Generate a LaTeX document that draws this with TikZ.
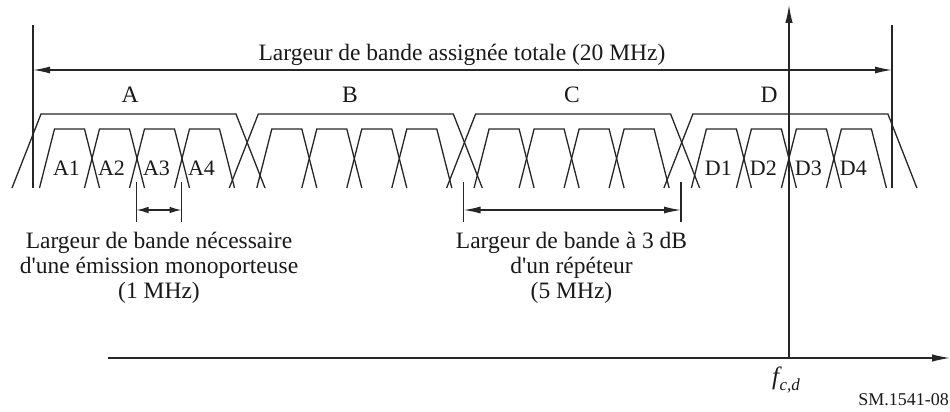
\documentclass[tikz,border=0pt]{standalone}
\usepackage{fontspec}
\setmainfont{Liberation Serif}
\usetikzlibrary{arrows.meta}
\begin{document}
\begin{tikzpicture}[x=1pt,y=-1pt,
  ln/.style={line width=1.3pt, draw=black!85},
  arr/.style={ln,{Latex[length=17pt,width=7pt]}-{Latex[length=17pt,width=7pt]}},
  sarr/.style={ln,{Latex[length=12pt,width=6.5pt]}-{Latex[length=12pt,width=6.5pt]}},
  oarr/.style={ln,-{Latex[length=18pt,width=7.5pt]}},
  lbl/.style={inner sep=0pt, font=\fontsize{23.5}{25}\selectfont, text=black!90},
  sub/.style={inner sep=0pt, font=\fontsize{22}{24}\selectfont, text=black!90, anchor=base}
]
\useasboundingbox (0,0) rectangle (950,412);

% transponders and carriers
\foreach \i in {0,1,2,3}{
  \pgfmathsetmacro\T{41+217.3*\i}
  \draw[ln] (\T-29,188) -- (\T,114) -- (\T+195,114) -- (\T+224,188);
  \foreach \k in {0,1,2,3}{
    \pgfmathsetmacro\c{\T+13.5+45*\k}
    \draw[ln] (\c-15,188) -- (\c,129) -- (\c+30,129) -- (\c+45,188);
  }
}

% carrier labels
\foreach \k in {1,2,3,4}{
  \node[sub] (A\k) at ({41+13.5+45*(\k-1)+12},175) {A\k};
  \node[sub] (D\k) at ({692.9+13.5+45*(\k-1)+12},175) {D\k};
}

% transponder labels
\node[lbl,anchor=base] (tA) at (130,102) {A};
\node[lbl,anchor=base] (tB) at (350,102) {B};
\node[lbl,anchor=base] (tC) at (572,102) {C};
\node[lbl,anchor=base] (tD) at (769,102) {D};

% total bandwidth
\coordinate (LT) at (33,25);  \coordinate (LB) at (33,188);
\coordinate (RT) at (892,25); \coordinate (RB) at (892,188);
\draw[ln] (LT) -- (LB);
\draw[ln] (RT) -- (RB);
\coordinate (AL) at (33,70); \coordinate (AR) at (892,70);
\draw[arr] (AL) -- (AR);
\node[lbl,anchor=base] (total) at (462,60) {Largeur de bande assignée totale (20 MHz)};

% axes
\coordinate (X0) at (108,358); \coordinate (X1) at (950,358);
\draw[oarr] (X0) -- (X1);
\coordinate (F0) at (789,358); \coordinate (F1) at (789,5);
\draw[oarr] (F0) -- (F1);
\node[inner sep=0pt, anchor=base west, text=black!90] (fcd) at (772,384)
  {\fontsize{25}{25}\selectfont\itshape f\kern0.5pt\raisebox{-6pt}{\fontsize{17}{17}\selectfont c,d}};

% 1 MHz
\coordinate (m1t) at (136.5,182); \coordinate (m1b) at (136.5,222);
\coordinate (m2t) at (181.5,182); \coordinate (m2b) at (181.5,222);
\draw[ln] (m1t) -- (m1b);
\draw[ln] (m2t) -- (m2b);
\coordinate (m1a) at (136.5,210); \coordinate (m2a) at (181.5,210);
\draw[sarr] (m1a) -- (m2a);
\node[lbl,align=center,anchor=north] (nec) at (159,231.5)
  {Largeur de bande nécessaire\\d\textquotesingle une émission monoporteuse\\(1 MHz)};

% 5 MHz
\coordinate (r1t) at (463.5,182); \coordinate (r1b) at (463.5,222);
\coordinate (r2t) at (681,182); \coordinate (r2b) at (681,222);
\draw[ln] (r1t) -- (r1b);
\draw[ln] (r2t) -- (r2b);
\coordinate (r1a) at (463.5,210); \coordinate (r2a) at (681,210);
\draw[arr] (r1a) -- (r2a);
\node[lbl,align=center,anchor=north] (rep) at (571.5,231.5)
  {Largeur de bande à 3 dB\\d\textquotesingle un répéteur\\(5 MHz)};

\node[inner sep=0pt, anchor=base east, font=\fontsize{18}{20}\selectfont, text=black!90] (sm) at (949,405) {SM.1541-08};
\end{tikzpicture}
\end{document}
